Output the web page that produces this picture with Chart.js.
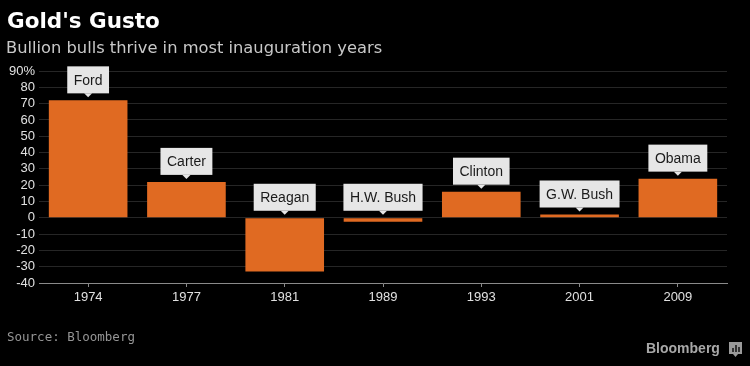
<!DOCTYPE html>
<html>
<head>
<meta charset="utf-8">
<script src="https://cdn.jsdelivr.net/npm/chart.js@4/dist/chart.umd.min.js"></script>
<style>
  html, body { margin: 0; padding: 0; background: #000; }
  #wrap { width: 750px; height: 366px; position: relative; }
</style>
</head>
<body>
<div id="wrap"><canvas id="goldChart" width="750" height="366"></canvas></div>
<script>
const years = ['1974', '1977', '1981', '1989', '1993', '2001', '2009'];
const presidents = ['Ford', 'Carter', 'Reagan', 'H.W. Bush', 'Clinton', 'G.W. Bush', 'Obama'];
const goldChange = [72, 22, -33, -2.5, 16, 2, 24];
const yTicks = [-40, -30, -20, -10, 0, 10, 20, 30, 40, 50, 60, 70, 80, 90];

const title = "Gold's Gusto";
const subtitle = 'Bullion bulls thrive in most inauguration years';
const source = 'Source: Bloomberg';

const ctxGold = document.getElementById('goldChart').getContext('2d');

// draws the name callouts above each bar plus the page texts
const calloutPlugin = {
    id: 'callouts',
    afterDatasetsDraw(chart) {
        const ctx = chart.ctx;
        const yScale = chart.scales.y;
        const meta = chart.getDatasetMeta(0);
        ctx.save();
        ctx.font = '14px "Liberation Sans", Arial, sans-serif';
        meta.data.forEach((bar, i) => {
            const v = goldChange[i];
            const top = v >= 0 ? bar.y : yScale.getPixelForValue(0);
            const label = presidents[i];
            const w = ctx.measureText(label).width + 13;
            const h = 27;
            const bottom = top - 7;
            const x = bar.x;
            ctx.fillStyle = '#e6e6e6';
            ctx.fillRect(x - w / 2, bottom - h, w, h);
            ctx.beginPath();
            ctx.moveTo(x - 4, bottom);
            ctx.lineTo(x + 4, bottom);
            ctx.lineTo(x, bottom + 4);
            ctx.closePath();
            ctx.fill();
            ctx.fillStyle = '#1a1a1a';
            ctx.textAlign = 'center';
            ctx.textBaseline = 'middle';
            ctx.fillText(label, x, bottom - h / 2 + 1);
        });
        ctx.restore();
    },
    afterDraw(chart) {
        const ctx = chart.ctx;
        ctx.save();
        ctx.textAlign = 'left';
        ctx.textBaseline = 'alphabetic';
        ctx.fillStyle = '#ffffff';
        ctx.font = 'bold 21.5px "DejaVu Sans", sans-serif';
        ctx.fillText(title, 7, 28);
        ctx.fillStyle = '#c8c8c8';
        ctx.font = '16.3px "DejaVu Sans", sans-serif';
        ctx.fillText(subtitle, 6, 53);
        ctx.fillStyle = '#959595';
        ctx.font = '12.5px "DejaVu Sans Mono", monospace';
        ctx.fillText(source, 7, 341);
        ctx.fillStyle = '#a8a8a8';
        ctx.font = 'bold 14px "Liberation Sans", Arial, sans-serif';
        ctx.fillText('Bloomberg', 646, 353);
        // little logo square
        ctx.fillStyle = '#9a9a9a';
        ctx.fillRect(729, 342, 13, 12);
        ctx.beginPath();
        ctx.moveTo(733, 354);
        ctx.lineTo(738, 354);
        ctx.lineTo(735.5, 357);
        ctx.closePath();
        ctx.fill();
        ctx.fillStyle = '#333';
        ctx.fillRect(732, 348, 2, 4);
        ctx.fillRect(735, 345, 2, 7);
        ctx.fillRect(738, 347, 2, 5);
        ctx.restore();
    }
};

const goldChart = new Chart(ctxGold, {
    type: 'bar',
    data: {
        labels: years,
        datasets: [
            {
                label: 'Gold price change',
                data: goldChange,
                backgroundColor: '#e06a22',
                categoryPercentage: 1,
                barPercentage: 0.8
            }
        ]
    },
    options: {
        responsive: false,
        animation: false,
        layout: {
            padding: { top: 71, left: 4, right: 23, bottom: 53 }
        },
        plugins: {
            legend: { display: false },
            tooltip: { enabled: false }
        },
        scales: {
            x: {
                grid: {
                    display: true,
                    drawOnChartArea: false,
                    offset: false,
                    tickLength: 4,
                    color: '#8a8a8a'
                },
                border: { color: '#8a8a8a', width: 1 },
                ticks: {
                    color: '#e0e0e0',
                    font: { family: '"Liberation Sans", Arial, sans-serif', size: 13 },
                    padding: 3
                },
                afterFit(scale) { scale.height = 30; }
            },
            y: {
                min: -40,
                max: 90,
                afterBuildTicks(scale) {
                    scale.ticks = yTicks.map(v => ({ value: v }));
                },
                grid: {
                    color: '#262626',
                    drawTicks: false
                },
                border: { display: false },
                ticks: {
                    autoSkip: false,
                    color: '#e0e0e0',
                    font: { family: '"Liberation Sans", Arial, sans-serif', size: 13 },
                    padding: 4,
                    callback: v => v === 90 ? '90%' : v
                },
                afterFit(scale) { scale.width = 35; }
            }
        }
    },
    plugins: [calloutPlugin]
});
</script>
</body>
</html>
